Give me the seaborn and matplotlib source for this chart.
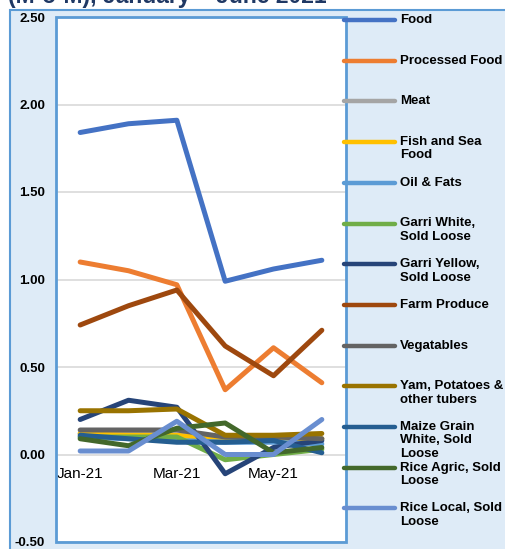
import matplotlib
matplotlib.use("Agg")
import matplotlib.pyplot as plt
from matplotlib.patches import Rectangle
from matplotlib.lines import Line2D
import seaborn as sns
import pandas as pd

months = ["Jan-21", "Feb-21", "Mar-21", "Apr-21", "May-21", "Jun-21"]
tick_labels = ["Jan-21", "Mar-21", "May-21"]

food = [1.84, 1.89, 1.91, 0.99, 1.06, 1.11]
processed_food = [1.10, 1.05, 0.97, 0.37, 0.61, 0.41]
meat = [0.12, 0.12, 0.11, 0.09, 0.09, 0.09]
fish_sea_food = [0.12, 0.11, 0.11, 0.08, 0.09, 0.09]
oil_fats = [0.10, 0.09, 0.08, 0.07, 0.07, 0.06]
garri_white = [0.10, 0.10, 0.10, -0.03, 0.00, 0.03]
garri_yellow = [0.20, 0.31, 0.27, -0.11, 0.04, 0.08]
farm_produce = [0.74, 0.85, 0.94, 0.62, 0.45, 0.71]
vegetables = [0.14, 0.14, 0.14, 0.10, 0.10, 0.09]
yam_tubers = [0.25, 0.25, 0.26, 0.11, 0.11, 0.12]
maize_white = [0.11, 0.09, 0.07, 0.07, 0.08, 0.01]
rice_agric = [0.09, 0.05, 0.15, 0.18, 0.01, 0.04]
rice_local = [0.02, 0.02, 0.19, 0.00, 0.00, 0.20]

series = [
    ("Food", food, "#4472C4"),
    ("Processed Food", processed_food, "#ED7D31"),
    ("Meat", meat, "#A5A5A5"),
    ("Fish and Sea\nFood", fish_sea_food, "#FFC000"),
    ("Oil & Fats", oil_fats, "#5B9BD5"),
    ("Garri White,\nSold Loose", garri_white, "#70AD47"),
    ("Garri Yellow,\nSold Loose", garri_yellow, "#264478"),
    ("Farm Produce", farm_produce, "#9E480E"),
    ("Vegatables", vegetables, "#636363"),
    ("Yam, Potatoes &\nother tubers", yam_tubers, "#997300"),
    ("Maize Grain\nWhite, Sold\nLoose", maize_white, "#255E91"),
    ("Rice Agric, Sold\nLoose", rice_agric, "#43682B"),
    ("Rice Local, Sold\nLoose", rice_local, "#698ED0"),
]

rows = []
for name, vals, _ in series:
    for m, v in zip(months, vals):
        rows.append({"Month": m, "Value": v, "Series": name})
df = pd.DataFrame(rows)
palette = {name: c for name, _, c in series}

sns.set_theme(style="white")
plt.rcParams["font.family"] = ["Liberation Sans", "DejaVu Sans"]

W, H = 506, 549
fig = plt.figure(figsize=(W / 100, H / 100), dpi=100, facecolor="white")

# outer chart area
bg = Rectangle((10 / W, -0.1), 1.2, 1 - 10 / H + 0.1, transform=fig.transFigure,
               facecolor="#DEEBF7", edgecolor="#5B9BD5", linewidth=1.5, zorder=-10)
fig.patches.append(bg)

fig.text(8 / W, 1 - 3.5 / H, "(M-o-M), January \u2013 June 2021", fontsize=16.5,
         fontweight="bold", color="#1F3864", va="baseline", ha="left")

ax = fig.add_axes([56 / W, 7 / H, 290 / W, 525 / H])
ax.set_facecolor("white")

sns.lineplot(data=df, x="Month", y="Value", hue="Series", palette=palette,
             hue_order=[s[0] for s in series], sort=False, linewidth=3.6,
             legend=False, ax=ax)

ax.set_xlim(-0.5, 5.5)
ax.set_ylim(-0.5, 2.5)
ax.set_yticks([-0.5, 0, 0.5, 1.0, 1.5, 2.0, 2.5])
ax.set_yticklabels([f"{v:.2f}" for v in [-0.5, 0, 0.5, 1.0, 1.5, 2.0, 2.5]],
                   fontweight="bold", fontsize=9.5)
ax.set_xticks([0, 2, 4])
ax.set_xticklabels(tick_labels, fontweight="bold", fontsize=9.5)
ax.tick_params(axis="both", length=0, colors="black")
ax.tick_params(axis="y", pad=8)
ax.tick_params(axis="x", pad=9)
ax.set_xlabel("")
ax.set_ylabel("")
ax.yaxis.grid(True, color="#D9D9D9", linewidth=1.2)
ax.set_axisbelow(True)
for s in ["top", "left", "right"]:
    ax.spines[s].set_visible(False)
ax.spines["bottom"].set_position(("data", 0))
ax.spines["bottom"].set_visible(False)

frame = Rectangle((0, 0), 1, 1, transform=ax.transAxes, fill=False,
                  edgecolor="#5B9BD5", linewidth=2, clip_on=False, zorder=5)
ax.add_patch(frame)

# legend on the right
for i, (name, _, color) in enumerate(series):
    yp = 20 + i * 40.7
    yf = 1 - yp / H
    fig.add_artist(Line2D([344 / W, 395 / W], [yf, yf], transform=fig.transFigure,
                          color=color, linewidth=3.2, solid_capstyle="round", zorder=6))
    fig.text(400 / W, 1 - (yp - 6) / H, name, fontsize=9.5, fontweight="bold",
             va="top", ha="left", linespacing=1.15, color="black")

fig.savefig("out.png", dpi=100, facecolor="white")
